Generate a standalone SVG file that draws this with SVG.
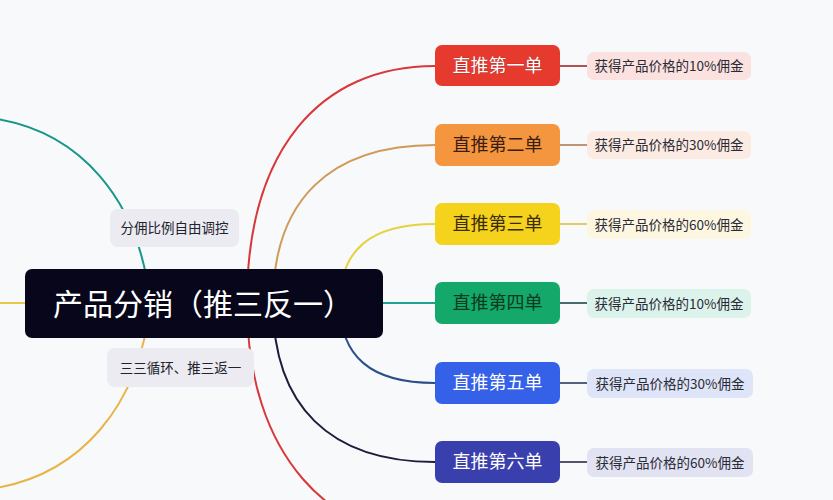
<svg xmlns="http://www.w3.org/2000/svg" width="833" height="500" viewBox="0 0 833 500">
<style>
.br{fill:none;stroke-width:2;stroke-linecap:round}
.lk{fill:none;stroke-width:1.6}
.t{font-family:"Noto Sans CJK SC","Noto Sans",sans-serif}
.main{font-size:18px;text-anchor:middle;font-weight:400}
.leaf{font-size:13.5px;fill:#2a2a35;text-anchor:middle}
.lab{font-size:13.5px;fill:#22222c;text-anchor:middle}
</style>
<rect width="833" height="500" fill="#f8f9fb"/>
<g id="connectors">
<path class="br" stroke="#17968a" d="M150 303 C140 200 80 130 -10 118"/>
<path class="br" stroke="#e8b448" d="M150 303 C140 406 80 476 -10 489"/>
<path class="br" stroke="#e8c84a" d="M-5 303 H150"/>
<path class="br" stroke="#d8383a" d="M247 303 C247 150 320 66 435 66"/>
<path class="br" stroke="#d8383a" d="M247 303 C247 455 330 541 445 541"/>
<path class="br" stroke="#d09a58" d="M273 303 C273 200 330 145 435 145"/>
<path class="br" stroke="#e6d23c" d="M340 303 C340 250 370 224 435 224"/>
<path class="br" stroke="#1ea392" d="M340 303 H435"/>
<path class="br" stroke="#2a4f8a" d="M340 303 C340 356 370 383 435 383"/>
<path class="br" stroke="#1c1c3c" d="M273 303 C273 406 330 462 435 462"/>
<path class="lk" stroke="#a02a2a" d="M560 66 H588"/>
<path class="lk" stroke="#b07a55" d="M560 145 H588"/>
<path class="lk" stroke="#d8c440" d="M560 224 H588"/>
<path class="lk" stroke="#1a4a4a" d="M560 303 H588"/>
<path class="lk" stroke="#2a3a5a" d="M560 383 H588"/>
<path class="lk" stroke="#2a2a4a" d="M560 462 H588"/>
</g>
<g id="label-1"><rect x="110" y="209" width="129" height="38" rx="8" fill="#ebebf1"/><text class="t lab" x="174.5" y="233">分佣比例自由调控</text></g>
<g id="label-2"><rect x="107" y="348" width="147" height="39" rx="8" fill="#ebebf1"/><text class="t lab" x="180.5" y="372.5">三三循环、推三返一</text></g>
<g id="root"><rect x="25" y="269" width="358" height="69" rx="7" fill="#07061a"/><text class="t" x="53" y="315" font-size="30" fill="#ffffff">产品分销（推三反一）</text></g>
<g id="node-1"><rect x="435" y="45" width="125" height="41" rx="7" fill="#e63a2e"/><text class="t main" x="497.5" y="72" fill="#ffffff" stroke="#b02020" stroke-width="0.6" paint-order="stroke">直推第一单</text></g>
<g id="node-2"><rect x="435" y="124" width="125" height="42" rx="7" fill="#f4953f"/><text class="t main" x="497.5" y="151" fill="#3a1c10">直推第二单</text></g>
<g id="node-3"><rect x="435" y="203" width="125" height="42" rx="7" fill="#f5d21c"/><text class="t main" x="497.5" y="230" fill="#3a2c0a">直推第三单</text></g>
<g id="node-4"><rect x="435" y="282" width="125" height="42" rx="7" fill="#14a86a"/><text class="t main" x="497.5" y="309" fill="#0c3a20">直推第四单</text></g>
<g id="node-5"><rect x="435" y="362" width="125" height="42" rx="7" fill="#3560e8"/><text class="t main" x="497.5" y="389" fill="#ffffff">直推第五单</text></g>
<g id="node-6"><rect x="435" y="441" width="125" height="42" rx="7" fill="#3a3fae"/><text class="t main" x="497.5" y="468" fill="#ffffff">直推第六单</text></g>
<g id="leaf-1"><rect x="587" y="52" width="164" height="28" rx="7" fill="#fbe1df"/><text class="t leaf" x="669" y="71">获得产品价格的10%佣金</text></g>
<g id="leaf-2"><rect x="587" y="131" width="164" height="28" rx="7" fill="#fcebe2"/><text class="t leaf" x="669" y="150">获得产品价格的30%佣金</text></g>
<g id="leaf-3"><rect x="587" y="210" width="164" height="29" rx="7" fill="#fdf7e2"/><text class="t leaf" x="669" y="229.5">获得产品价格的60%佣金</text></g>
<g id="leaf-4"><rect x="587" y="289" width="164" height="29" rx="7" fill="#dcf3eb"/><text class="t leaf" x="669" y="308.5">获得产品价格的10%佣金</text></g>
<g id="leaf-5"><rect x="587" y="369" width="166" height="29" rx="7" fill="#dfe5f8"/><text class="t leaf" x="670" y="388.5">获得产品价格的30%佣金</text></g>
<g id="leaf-6"><rect x="587" y="448" width="166" height="29" rx="7" fill="#e1e2f2"/><text class="t leaf" x="670" y="467.5">获得产品价格的60%佣金</text></g>
</svg>
